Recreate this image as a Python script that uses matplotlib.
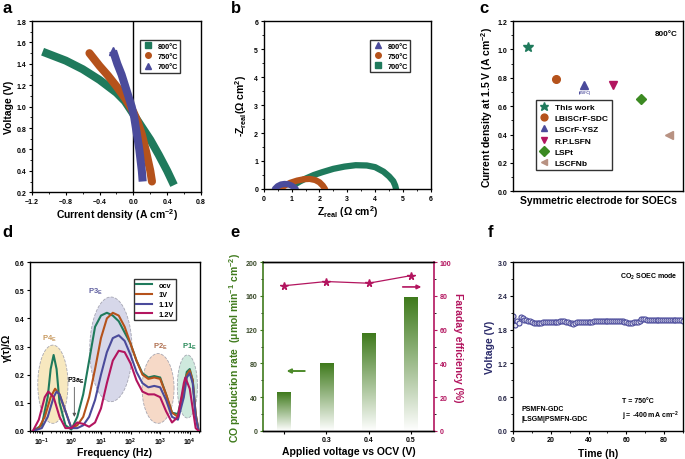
import numpy as np
import matplotlib
matplotlib.use('Agg')
import matplotlib.pyplot as plt
from matplotlib.lines import Line2D
from matplotlib.ticker import AutoMinorLocator, MultipleLocator, NullFormatter, LogLocator
from matplotlib.colors import LinearSegmentedColormap

plt.rcParams['font.family'] = ['Liberation Sans', 'DejaVu Sans']
plt.rcParams['font.weight'] = 'bold'
plt.rcParams['axes.labelweight'] = 'bold'
plt.rcParams['mathtext.fontset'] = 'custom'
plt.rcParams['mathtext.rm'] = 'Liberation Sans:bold'
plt.rcParams['mathtext.it'] = 'Liberation Sans:bold'
plt.rcParams['mathtext.bf'] = 'Liberation Sans:bold'
plt.rcParams['mathtext.default'] = 'rm'
plt.rcParams['xtick.labelsize'] = 5
plt.rcParams['ytick.labelsize'] = 5
plt.rcParams['xtick.major.size'] = 2.5
plt.rcParams['ytick.major.size'] = 2.5
plt.rcParams['xtick.minor.size'] = 1.4
plt.rcParams['ytick.minor.size'] = 1.4
plt.rcParams['xtick.major.width'] = 0.8
plt.rcParams['ytick.major.width'] = 0.8
plt.rcParams['axes.linewidth'] = 1.0
plt.rcParams['xtick.major.pad'] = 1.5
plt.rcParams['ytick.major.pad'] = 1.5

GREEN = '#1f7a5c'
ORANGE = '#b5521b'
PURPLE = '#4b4b9b'
MAGENTA = '#b3155f'
OLIVE = '#3f7a1c'

# ---- panel a: I-V curves
iv_800_j = [-1.03, -0.80, -0.60, -0.40, -0.20, -0.10, 0.00, 0.10, 0.20, 0.30, 0.40, 0.46]
iv_800_v = [1.50, 1.43, 1.35, 1.25, 1.13, 1.05, 0.93, 0.81, 0.69, 0.55, 0.40, 0.30]
iv_750_j = [-0.52, -0.40, -0.30, -0.20, -0.10, 0.00, 0.05, 0.10, 0.15, 0.20, 0.22]
iv_750_v = [1.50, 1.38, 1.29, 1.19, 1.08, 0.95, 0.86, 0.74, 0.58, 0.40, 0.30]
iv_700_j = [-0.24, -0.19, -0.14, -0.10, -0.06, -0.02, 0.01, 0.03, 0.05, 0.07, 0.085, 0.10, 0.11]
iv_700_v = [1.52, 1.40, 1.30, 1.20, 1.10, 1.00, 0.90, 0.80, 0.70, 0.60, 0.50, 0.40, 0.30]

# ---- panel b: impedance arcs
z800_re = [0.40, 0.50, 0.62, 0.75, 0.88, 1.00, 1.10, 1.15]
z800_im = [0.00, 0.10, 0.16, 0.18, 0.17, 0.12, 0.05, 0.00]
z750_re = [0.60, 0.75, 0.95, 1.20, 1.45, 1.65, 1.85, 2.00, 2.12, 2.20]
z750_im = [0.00, 0.12, 0.22, 0.30, 0.35, 0.36, 0.32, 0.24, 0.12, 0.00]
z700_re = [1.10, 1.30, 1.50, 1.80, 2.10, 2.50, 2.90, 3.30, 3.70, 4.00, 4.30, 4.50, 4.65, 4.72, 4.75]
z700_im = [0.15, 0.27, 0.37, 0.50, 0.60, 0.72, 0.80, 0.85, 0.84, 0.78, 0.62, 0.45, 0.28, 0.12, 0.00]

# ---- panel c: comparison
electrodes = ['This work', 'LBiSCrF-SDC', 'LSCrF-YSZ', 'R.P.LSFN', 'LSPt', 'LSCFNb']
j_at_15v = [1.02, 0.79, 0.75, 0.75, 0.65, 0.40]
c_markers = ['*', 'o', '^', 'v', 'D', '<']
c_colors = [GREEN, ORANGE, PURPLE, MAGENTA, '#3c8a22', '#b89282']

# ---- panel d: DRT
ocv_logf = [-1.3, -1.0, -0.8, -0.7, -0.6, -0.5, -0.4, -0.2, 0.0, 0.2, 0.4, 0.6, 0.8, 1.0, 1.2, 1.4, 1.6, 1.8, 2.0,
            2.2, 2.4, 2.6, 2.8, 3.0, 3.2, 3.4, 3.6, 3.8, 3.9, 4.0, 4.1, 4.2, 4.3]
ocv_g = [0.0, 0.02, 0.12, 0.22, 0.27, 0.22, 0.10, 0.02, 0.005, 0.05, 0.13, 0.25, 0.37, 0.41, 0.42, 0.41, 0.39, 0.35, 0.31,
         0.25, 0.205, 0.19, 0.195, 0.19, 0.13, 0.065, 0.06, 0.15, 0.21, 0.22, 0.18, 0.06, 0.0]
v1_logf = [-1.3, -1.1, -0.9, -0.7, -0.55, -0.4, -0.2, 0.0, 0.2, 0.4, 0.6, 0.8, 1.0, 1.2, 1.4, 1.6, 1.8, 2.0,
           2.2, 2.4, 2.6, 2.8, 3.0, 3.2, 3.4, 3.6, 3.8, 3.9, 4.0, 4.1, 4.2, 4.3]
v1_g = [0.0, 0.01, 0.05, 0.12, 0.15, 0.13, 0.07, 0.01, 0.02, 0.05, 0.12, 0.22, 0.33, 0.40, 0.42, 0.41, 0.37, 0.31,
        0.25, 0.20, 0.185, 0.19, 0.185, 0.13, 0.065, 0.05, 0.14, 0.20, 0.215, 0.18, 0.06, 0.0]
v11_logf = [-1.3, -1.0, -0.8, -0.6, -0.5, -0.4, -0.2, 0.0, 0.2, 0.4, 0.6, 0.8, 1.0, 1.2, 1.4, 1.6, 1.8, 2.0,
            2.2, 2.4, 2.6, 2.8, 3.0, 3.2, 3.4, 3.6, 3.8, 3.9, 4.0, 4.1, 4.2, 4.3]
v11_g = [0.0, 0.01, 0.05, 0.12, 0.14, 0.13, 0.07, 0.01, 0.01, 0.02, 0.05, 0.11, 0.20, 0.28, 0.33, 0.34, 0.32, 0.27,
         0.21, 0.17, 0.155, 0.16, 0.155, 0.11, 0.05, 0.04, 0.12, 0.19, 0.205, 0.17, 0.05, 0.0]
v12_logf = [-1.3, -1.1, -0.9, -0.78, -0.6, -0.4, -0.2, 0.0, 0.2, 0.4, 0.6, 0.8, 1.0, 1.2, 1.4, 1.6, 1.8, 2.0,
            2.2, 2.4, 2.6, 2.8, 3.0, 3.2, 3.4, 3.6, 3.8, 3.85, 4.0, 4.1, 4.2, 4.3]
v12_g = [0.0, 0.04, 0.12, 0.14, 0.12, 0.05, 0.01, 0.01, 0.03, 0.025, 0.015, 0.03, 0.08, 0.17, 0.25, 0.285, 0.28, 0.24,
         0.18, 0.14, 0.13, 0.13, 0.12, 0.07, 0.03, 0.05, 0.17, 0.19, 0.15, 0.08, 0.01, 0.0]

# ---- panel e: CO production / faraday efficiency
applied_v = [0.2, 0.3, 0.4, 0.5]
co_rate = [46, 80, 115, 158]
faraday = [86, 88.5, 87.5, 92]

# ---- panel f: stability
time_h = list(range(91))
volt_f = [2.05, 1.89, 1.95, 1.92, 2.03, 2.00, 1.98, 1.97, 1.96, 1.95, 1.94, 1.92, 1.91, 1.91, 1.92, 1.92, 1.93, 1.93,
          1.93, 1.94, 1.94, 1.93, 1.93, 1.94, 1.94, 1.95, 1.95, 1.95, 1.94, 1.93, 1.92, 1.91, 1.90, 1.92, 1.93, 1.93,
          1.93, 1.94, 1.94, 1.94, 1.94, 1.94, 1.94, 1.95, 1.95, 1.95, 1.95, 1.96, 1.96, 1.96, 1.96, 1.96, 1.96, 1.96,
          1.96, 1.96, 1.96, 1.96, 1.95, 1.94, 1.93, 1.92, 1.92, 1.92, 1.93, 1.93, 1.94, 1.96, 1.99, 1.99, 1.99, 1.98,
          1.98, 1.98, 1.98, 1.98, 1.98, 1.98, 1.98, 1.97, 1.98, 1.98, 1.98, 1.98, 1.98, 1.98, 1.98, 1.98, 1.97, 1.97,
          1.96]

fig = plt.figure(figsize=(6.85, 4.6), dpi=100)

ax_a = fig.add_axes([0.0467, 0.580, 0.2467, 0.372])
ax_b = fig.add_axes([0.385, 0.587, 0.244, 0.365])
ax_c = fig.add_axes([0.749, 0.582, 0.248, 0.370])
ax_d = fig.add_axes([0.0438, 0.0610, 0.248, 0.367])
ax_e = fig.add_axes([0.384, 0.0610, 0.250, 0.367])
ax_f = fig.add_axes([0.749, 0.0610, 0.248, 0.367])

lab_fs = 7.5
leg_fs = 5.3

# a
ax_a.axvline(0, color='black', lw=1.0, zorder=1)
ax_a.plot(iv_800_j, iv_800_v, color=GREEN, lw=5.8, solid_capstyle='projecting', solid_joinstyle='round', zorder=2)
ax_a.plot(iv_750_j, iv_750_v, color=ORANGE, lw=5.8, solid_capstyle='round', solid_joinstyle='round', zorder=3)
ax_a.plot(iv_700_j, iv_700_v, color=PURPLE, lw=5.8, solid_capstyle='butt', solid_joinstyle='round', zorder=4)
ax_a.plot([iv_700_j[0]], [iv_700_v[0]], marker='^', color=PURPLE, ms=6, zorder=4)
ax_a.set_xlim(-1.2, 0.8)
ax_a.set_ylim(0.2, 1.8)
ax_a.xaxis.set_major_locator(MultipleLocator(0.4))
ax_a.yaxis.set_major_locator(MultipleLocator(0.2))
ax_a.set_xlabel('Current density (A cm$^{-2}$)', fontsize=lab_fs, labelpad=1)
ax_a.set_ylabel('Voltage (V)', fontsize=lab_fs, labelpad=2)
h_a = [Line2D([], [], ls='', marker='s', color=GREEN, ms=4),
       Line2D([], [], ls='', marker='o', color=ORANGE, ms=4),
       Line2D([], [], ls='', marker='^', color=PURPLE, ms=4)]
ax_a.legend(h_a, ['800°C', '750°C', '700°C'], loc='upper right', bbox_to_anchor=(0.9, 0.91), fontsize=leg_fs,
            frameon=True, fancybox=False, edgecolor='black', handlelength=1.4, borderpad=0.35, labelspacing=0.4,
            handletextpad=0.6)

# b
ax_b.plot(z700_re, z700_im, color=GREEN, lw=4.5, solid_capstyle='projecting', zorder=2)
ax_b.plot(z750_re, z750_im, color=ORANGE, lw=4.5, solid_capstyle='round', zorder=3)
ax_b.plot(z800_re, z800_im, color=PURPLE, lw=4.5, solid_capstyle='round', zorder=4)
ax_b.set_xlim(0, 6)
ax_b.set_ylim(0, 6)
ax_b.xaxis.set_major_locator(MultipleLocator(1))
ax_b.yaxis.set_major_locator(MultipleLocator(1))
ax_b.set_xlabel('Z$_{\\mathrm{real}}$ (Ω cm$^{2}$)', fontsize=lab_fs, labelpad=1)
ax_b.set_ylabel('-Z$_{\\mathrm{real}}$(Ω cm$^{2}$)', fontsize=lab_fs, labelpad=4)
h_b = [Line2D([], [], ls='', marker='^', color=PURPLE, ms=4),
       Line2D([], [], ls='', marker='o', color=ORANGE, ms=4),
       Line2D([], [], ls='', marker='s', color=GREEN, ms=4)]
ax_b.legend(h_b, ['800°C', '750°C', '700°C'], loc='upper right', bbox_to_anchor=(0.9, 0.91), fontsize=leg_fs,
            frameon=True, fancybox=False, edgecolor='black', handlelength=1.4, borderpad=0.35, labelspacing=0.4,
            handletextpad=0.6)

# c
for i, (name, val) in enumerate(zip(electrodes, j_at_15v)):
    ms = 7 if c_markers[i] == '*' else 5.5
    ax_c.plot(i + 1, val, ls='', marker=c_markers[i], color=c_colors[i], ms=ms, label=name)
ax_c.text(3, j_at_15v[2] - 0.05, '(850°C)', fontsize=2.5, color=PURPLE, ha='center', va='center')
ax_c.set_xlim(0.47, 6.49)
ax_c.set_ylim(0, 1.2)
ax_c.yaxis.set_major_locator(MultipleLocator(0.2))
ax_c.set_xticks([])
ax_c.set_xlabel('Symmetric electrode for SOECs', fontsize=lab_fs, labelpad=3)
ax_c.set_ylabel('Current density at 1.5 V (A cm$^{-2}$)', fontsize=lab_fs, labelpad=2)
ax_c.text(0.97, 0.95, '800°C', transform=ax_c.transAxes, ha='right', va='top', fontsize=5.8)
ax_c.legend(loc='lower left', bbox_to_anchor=(0.11, 0.10), fontsize=6, frameon=True, fancybox=False,
            edgecolor='black', handlelength=1.2, borderpad=0.35, labelspacing=0.42, markerscale=0.9,
            handletextpad=0.7)

# d
ellipses = [(-0.625, 0.51, 0.166, 0.139, '#f6e4b4'),
            (1.335, 0.715, 0.290, 0.186, '#cfd0e6'),
            (2.93, 0.54, 0.151, 0.124, '#f5d3bd'),
            (3.92, 0.34, 0.158, 0.112, '#c6e6d8')]
theta = np.linspace(0, 2 * np.pi, 120)
for cx, rx, cy, ry, fc in ellipses:
    ax_d.fill(10 ** (cx + rx * np.cos(theta)), cy + ry * np.sin(theta), facecolor=fc, edgecolor='#9a9aa8',
              ls='--', lw=0.6, alpha=0.85, zorder=1)
ax_d.plot(10 ** np.array(ocv_logf), ocv_g, color=GREEN, lw=1.5, label='ocv', zorder=3)
ax_d.plot(10 ** np.array(v1_logf), v1_g, color=ORANGE, lw=1.5, label='1V', zorder=3)
ax_d.plot(10 ** np.array(v11_logf), v11_g, color=PURPLE, lw=1.5, label='1.1V', zorder=3)
ax_d.plot(10 ** np.array(v12_logf), v12_g, color=MAGENTA, lw=1.5, label='1.2V', zorder=3)
ax_d.set_xscale('log')
ax_d.set_xlim(0.04, 2.2e4)
ax_d.set_ylim(0, 0.6)
ax_d.yaxis.set_major_locator(MultipleLocator(0.1))
ax_d.xaxis.set_major_locator(LogLocator(base=10, numticks=10))
ax_d.xaxis.set_minor_locator(LogLocator(base=10, subs=np.arange(2, 10), numticks=10))
ax_d.xaxis.set_minor_formatter(NullFormatter())
ax_d.tick_params(axis='x', pad=1)
ax_d.set_xlabel('Frequency (Hz)', fontsize=lab_fs, labelpad=0)
ax_d.set_ylabel('γ(τ)/Ω', fontsize=lab_fs, labelpad=2)
ax_d.text(10 ** -0.75, 0.325, 'P4$_{E}$', color='#c89a60', fontsize=5.5, ha='center')
ax_d.text(10 ** 0.8, 0.49, 'P3$_{E}$', color='#6060a0', fontsize=5.5, ha='center')
ax_d.text(10 ** 3.0, 0.295, 'P2$_{E}$', color='#b07050', fontsize=5.5, ha='center')
ax_d.text(10 ** 4.0, 0.295, 'P1$_{E}$', color='#2a8a5a', fontsize=5.5, ha='center')
ax_d.text(10 ** 0.15, 0.175, 'P3a$_{E}$', color='black', fontsize=5, ha='center')
ax_d.annotate('', xy=(10 ** 0.1, 0.04), xytext=(10 ** 0.1, 0.165),
              arrowprops=dict(arrowstyle='-|>', color='#555555', lw=0.6, mutation_scale=5))
ax_d.legend(loc='upper right', bbox_to_anchor=(0.88, 0.92), fontsize=5.3, frameon=True, fancybox=False,
            edgecolor='black', handlelength=2.2, borderpad=0.3, labelspacing=0.35)

# e
cmap_e = LinearSegmentedColormap.from_list('bar_green', ['#ffffff', OLIVE])
grad = np.linspace(0, 1, 256).reshape(-1, 1)
bar_w = 0.031
for x, h in zip(applied_v, co_rate):
    ax_e.imshow(grad, extent=[x - bar_w / 2, x + bar_w / 2, 0, h], origin='lower', aspect='auto', cmap=cmap_e,
                zorder=2)
ax_e.set_xlim(0.151, 0.555)
ax_e.set_ylim(0, 200)
ax_e.set_xticks([0.2, 0.3, 0.4, 0.5])
ax_e.set_xticklabels(['', '0.3', '0.4', '0.5'])
ax_e.yaxis.set_major_locator(MultipleLocator(40))
ax_e.yaxis.set_minor_locator(AutoMinorLocator(2))
ax_e.tick_params(axis='y', colors=OLIVE, labelcolor='#3a4a2a')
ax_e.spines['left'].set_color(OLIVE)
ax_e.spines['left'].set_linewidth(1.2)
ax_e.spines['right'].set_visible(False)
ax_e.set_xlabel('Applied voltage vs OCV (V)', fontsize=lab_fs, labelpad=2)
ax_e.set_ylabel('CO production rate  (μmol min$^{-1}$ cm$^{-2}$)', fontsize=lab_fs, color=OLIVE, labelpad=2)
ax_e.annotate('', xy=(0.200, 71), xytext=(0.256, 71),
              arrowprops=dict(arrowstyle='-|>', color='#4d8a2a', lw=1.4, mutation_scale=6))
ax_e2 = ax_e.twinx()
ax_e2.plot(applied_v, faraday, color=MAGENTA, lw=0.9, marker='*', ms=5.5)
ax_e2.set_ylim(0, 100)
ax_e2.yaxis.set_major_locator(MultipleLocator(20))
ax_e2.yaxis.set_minor_locator(AutoMinorLocator(2))
ax_e2.tick_params(axis='y', colors=MAGENTA, labelcolor=MAGENTA)
ax_e2.spines['right'].set_color(MAGENTA)
ax_e2.spines['right'].set_linewidth(1.2)
ax_e2.spines['left'].set_visible(False)
ax_e2.set_ylabel('Faraday efficiency (%)', fontsize=lab_fs, color=MAGENTA, rotation=270, labelpad=8)
ax_e2.annotate('', xy=(0.531, 85.3), xytext=(0.474, 85.3),
               arrowprops=dict(arrowstyle='-|>', color=MAGENTA, lw=1.2, mutation_scale=6))

# f
ax_f.plot(time_h, volt_f, ls='-', lw=0.8, color=PURPLE, marker='o', ms=3.6, mfc='#e8e8f4', mec=PURPLE, mew=0.8)
ax_f.set_xlim(0, 90)
ax_f.set_ylim(0, 3.0)
ax_f.xaxis.set_major_locator(MultipleLocator(20))
ax_f.yaxis.set_major_locator(MultipleLocator(0.6))
ax_f.yaxis.set_minor_locator(AutoMinorLocator(2))
ax_f.xaxis.set_minor_locator(AutoMinorLocator(2))
ax_f.tick_params(axis='y', labelcolor='#222244')
ax_f.set_xlabel('Time (h)', fontsize=lab_fs, labelpad=3)
ax_f.set_ylabel('Voltage (V)', fontsize=lab_fs, color='#2a2a6a', labelpad=2)
ax_f.text(0.97, 0.95, 'CO$_{2}$ SOEC mode', transform=ax_f.transAxes, ha='right', va='top', fontsize=5)
ax_f.text(0.05, 0.05, 'PSMFN-GDC\n|LSGM|PSMFN-GDC', transform=ax_f.transAxes, ha='left', va='bottom',
          fontsize=5, linespacing=1.6)
ax_f.text(0.64, 0.05, 'T = 750°C\nj = -400 mA cm$^{-2}$', transform=ax_f.transAxes, ha='left', va='bottom',
          fontsize=5, linespacing=1.6)

for ax in (ax_a, ax_b, ax_c, ax_d, ax_f):
    if ax is not ax_d:
        ax.yaxis.set_minor_locator(AutoMinorLocator(2))
    if ax not in (ax_c, ax_d):
        ax.xaxis.set_minor_locator(AutoMinorLocator(2))
for ax in (ax_a, ax_b, ax_c, ax_d, ax_e, ax_f):
    ax.tick_params(which='both', direction='out', top=False, right=False)
ax_e2.tick_params(which='both', direction='out')

for letter, x, y in [('a', 0.004, 0.998), ('b', 0.337, 0.998), ('c', 0.700, 0.998),
                     ('d', 0.004, 0.51), ('e', 0.337, 0.51), ('f', 0.712, 0.51)]:
    fig.text(x, y, letter, fontsize=12, fontweight='bold', ha='left', va='top')

fig.savefig('out.png', dpi=100)
